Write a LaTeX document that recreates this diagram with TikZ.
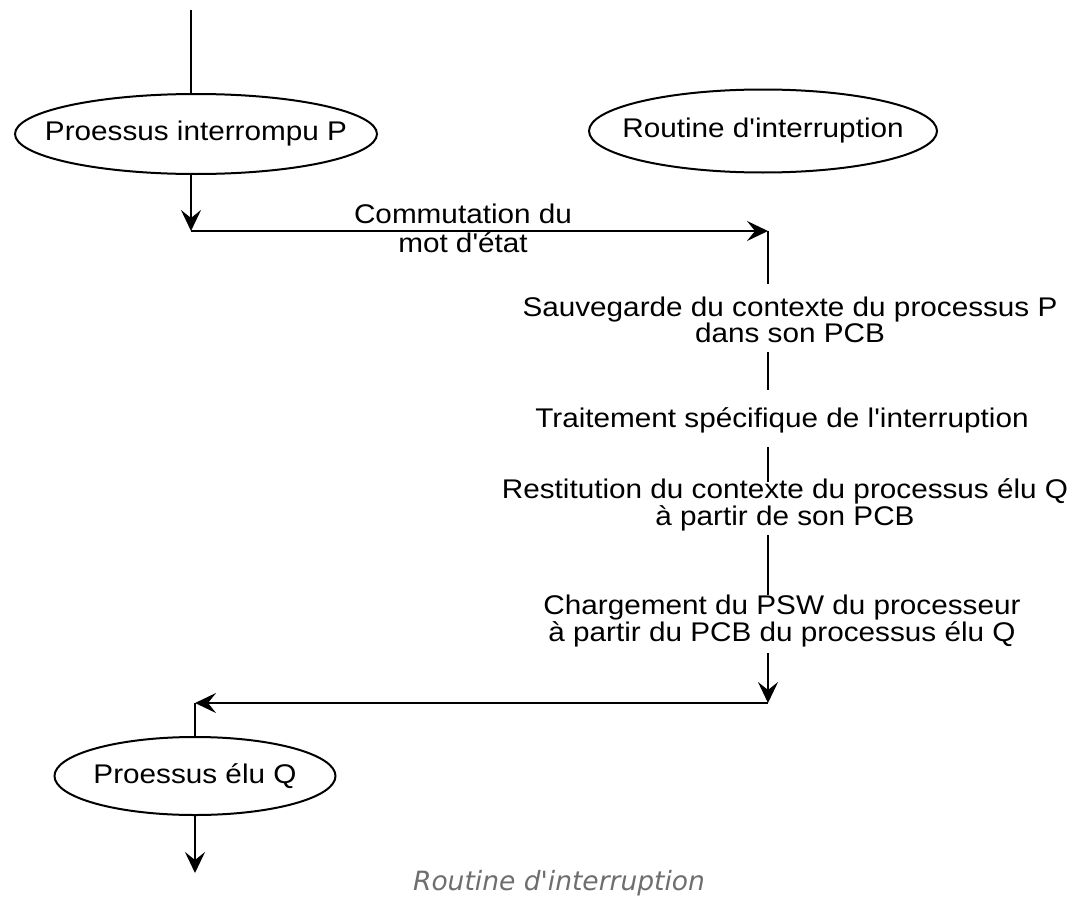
\documentclass[tikz,border=0pt]{standalone}
\usepackage{fontspec}
\newfontfamily\labelfont[FakeStretch=1.1]{Liberation Sans}
\newfontfamily\capfont{DejaVu Sans}
\usetikzlibrary{shapes.geometric,arrows.meta}

\begin{document}
\begin{tikzpicture}[x=1pt,y=-1pt,
  flow/.style={line width=2.3pt},
  arr/.style={flow,-{Stealth[length=21pt,width=20pt,inset=8pt]}},
  proc/.style={ellipse,draw,line width=2pt,inner sep=0pt,
    font=\labelfont\fontsize{27}{27}\selectfont},
  stepnote/.style={align=center,inner sep=0pt,
    font=\labelfont\fontsize{27}{24}\selectfont},
  caption/.style={font=\capfont\itshape\fontsize{26.5}{26.5}\selectfont,
    text={rgb,255:red,110;green,110;blue,110}}]
\useasboundingbox (0,0) rectangle (1084,907);

% processes and the interrupt routine (outline size set by the minimum sizes)
\node[proc,minimum width=362pt,minimum height=80pt] (P) at (196,134) {\makebox[0pt]{Proessus interrompu P}};
\node[proc,minimum width=348pt,minimum height=83pt] (R) at (763,131) {\makebox[0pt]{Routine d'interruption}};
\node[proc,minimum width=281pt,minimum height=78pt] (Q) at (195,776) {\makebox[0pt]{Proessus élu Q}};

% steps of the routine
\node[stepnote] (save) at (790,320) {Sauvegarde du contexte du processus P\\dans son PCB};
\node[stepnote,anchor=base] (treat) at (782,427) {Traitement spécifique de l'interruption};
\node[stepnote] (restore) at (785,505) {Restitution du contexte du processus élu Q\\à partir de son PCB};
\node[stepnote] (load) at (782,621) {Chargement du PSW du processeur\\à partir du PCB du processus élu Q};

% switch of the status word
\node[align=center,inner sep=0pt,font=\labelfont\fontsize{27}{29}\selectfont] (switch) at (463,228) {Commutation du\\mot d'état};

% junction points of the flow
\coordinate (in) at (191,10);
\coordinate (turnA) at (191,231);
\coordinate (entry) at (768,231);
\coordinate (s1) at (768,284);
\coordinate (s2a) at (768,352);
\coordinate (s2b) at (768,390);
\coordinate (s3a) at (768,447);
\coordinate (s3b) at (768,482);
\coordinate (s4a) at (768,535);
\coordinate (s4b) at (768,595);
\coordinate (s5) at (768,653);
\coordinate (exit) at (768,703);
\coordinate (turnB) at (195,703);
\coordinate (out) at (195,873);

% flow into and out of the interrupted process
\draw[flow] (in) -- (in |- P.north);
\draw[arr] (in |- P.south) -- (turnA);
\draw[arr] (turnA) -- (entry);

% flow through the routine
\draw[flow] (entry) -- (s1);
\draw[flow] (s2a) -- (s2b);
\draw[flow] (s3a) -- (s3b);
\draw[flow] (s4a) -- (s4b);
\draw[arr] (s5) -- (exit);

% return to the elected process
\draw[arr] (exit) -- (turnB);
\draw[flow] (turnB) -- (Q.north);
\draw[arr] (Q.south) -- (out);

\node[caption] (title) at (559,883) {Routine d'interruption};
\end{tikzpicture}
\end{document}
